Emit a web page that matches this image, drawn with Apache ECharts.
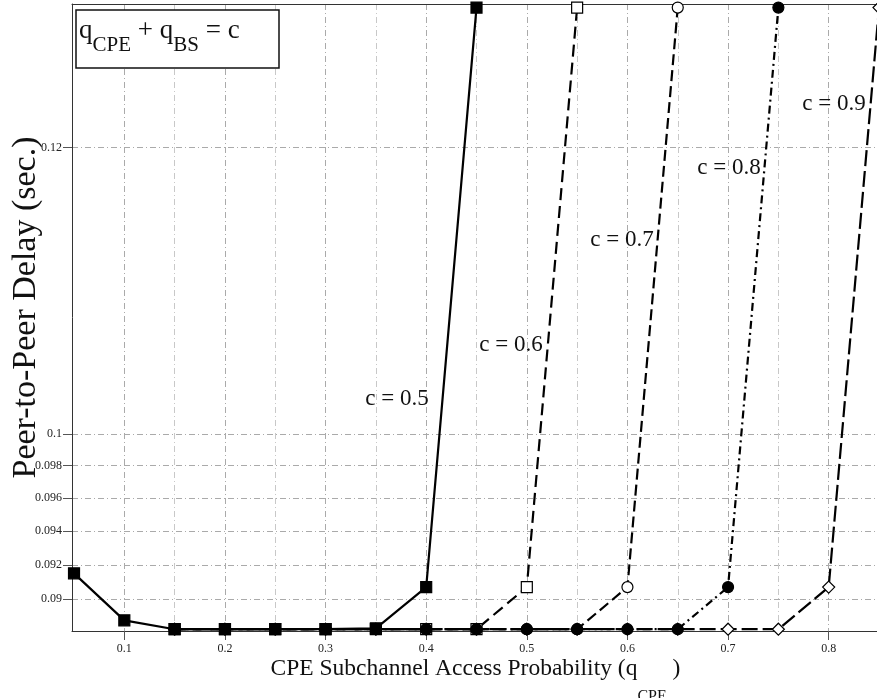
<!DOCTYPE html>
<html>
<head>
<meta charset="utf-8">
<script src="https://cdn.jsdelivr.net/npm/echarts@6.0.0/dist/echarts.min.js"></script>
<style>
  html, body { margin: 0; padding: 0; background: #fff; }
  #chart { width: 877px; height: 698px; }
</style>
</head>
<body>
<div id="chart"></div>
<script>
// q_CPE values on the x axis
var qCPE = [0.05, 0.1, 0.15, 0.2, 0.25, 0.3, 0.35, 0.4, 0.45, 0.5, 0.55, 0.6, 0.65, 0.7, 0.75, 0.8, 0.85];

// peer-to-peer delay (sec.) for each c = q_CPE + q_BS
var delayC05 = [0.0915, 0.0888, 0.0883, 0.0883, 0.0883, 0.0883, 0.08835, 0.0907, 0.1312, null, null, null, null, null, null, null, null];
var delayC06 = [null, null, 0.0883, 0.0883, 0.0883, 0.0883, 0.0883, 0.0883, 0.0883, 0.0907, 0.1312, null, null, null, null, null, null];
var delayC07 = [null, null, 0.0883, 0.0883, 0.0883, 0.0883, 0.0883, 0.0883, 0.0883, 0.0883, 0.0883, 0.0907, 0.1312, null, null, null, null];
var delayC08 = [null, null, 0.0883, 0.0883, 0.0883, 0.0883, 0.0883, 0.0883, 0.0883, 0.0883, 0.0883, 0.0883, 0.0883, 0.0907, 0.1312, null, null];
var delayC09 = [null, null, 0.0883, 0.0883, 0.0883, 0.0883, 0.0883, 0.0883, 0.0883, 0.0883, 0.0883, 0.0883, 0.0883, 0.0883, 0.0883, 0.0907, 0.1312];

// tick labels
var xTicks = [0.1, 0.2, 0.3, 0.4, 0.5, 0.6, 0.7, 0.8];
var xMinorTicks = [0.15, 0.25, 0.35, 0.45, 0.55, 0.65, 0.75];
var yTicks = [0.09, 0.092, 0.094, 0.096, 0.098, 0.1, 0.12];
var yTickLabels = ['0.09', '0.092', '0.094', '0.096', '0.098', '0.1', '0.12'];

var serif = 'Liberation Serif';

// the delay axis is logarithmic, so values go through log10 on a value axis
function toPairs(vals) {
  var out = [];
  for (var i = 0; i < qCPE.length; i++) {
    if (vals[i] != null) out.push([qCPE[i], Math.log10(vals[i])]);
  }
  return out;
}

function yLabel(v) {
  var best = 0;
  for (var i = 0; i < yTicks.length; i++) {
    if (Math.abs(Math.log10(yTicks[i]) - v) < Math.abs(Math.log10(yTicks[best]) - v)) best = i;
  }
  return yTickLabels[best];
}

function makeSeries(name, vals, symbol, filled, dash) {
  return {
    name: name,
    type: 'line',
    data: toPairs(vals),
    symbol: symbol,
    symbolSize: symbol === 'diamond' ? 12 : 11,
    showAllSymbol: true,
    clip: false,
    lineStyle: { color: '#000', width: 2.2, type: dash },
    itemStyle: { color: filled ? '#000' : '#fff', borderColor: '#000', borderWidth: 1.2 }
  };
}

function curveLabel(text, x, y) {
  return { type: 'text', x: x, y: y, z: 50, style: { text: text, font: '23px "Liberation Serif"', fill: '#111', align: 'center', verticalAlign: 'middle' } };
}

var gridDash = [6, 3, 1, 3];

var option = {
  animation: false,
  backgroundColor: '#fff',
  grid: { left: 72, top: 4, right: -2, bottom: 67, containLabel: false, outerBoundsMode: 'none' },
  xAxis: [{
    type: 'value',
    min: 0.048,
    max: 0.85,
    axisLine: { lineStyle: { color: '#333', width: 1 } },
    axisTick: { show: true, length: 9, customValues: xTicks, lineStyle: { color: '#555' } },
    axisLabel: { customValues: xTicks, margin: 12, color: '#222', fontFamily: serif, fontSize: 12 },
    splitLine: { show: true, lineStyle: { color: '#aaa', type: gridDash } },
    name: '{a|CPE Subchannel Access Probability (q}{sub|CPE}{a| )}',
    nameLocation: 'middle',
    nameGap: 1,
    nameMoveOverlap: false,
    nameTextStyle: {
      rich: {
        a: { fontFamily: serif, fontSize: 23.5, color: '#111' },
        sub: { fontFamily: serif, fontSize: 16, color: '#111', padding: [57, 0, 0, 0] }
      }
    }
  }, {
    // top border plus the lighter grid lines between the labelled ticks
    type: 'value',
    position: 'top',
    min: 0.048,
    max: 0.85,
    axisLine: { show: true, lineStyle: { color: '#333', width: 1 } },
    axisTick: { show: false, customValues: xMinorTicks },
    axisLabel: { show: false },
    splitLine: { show: true, lineStyle: { color: '#c8c8c8', type: gridDash } }
  }],
  yAxis: {
    type: 'value',
    min: Math.log10(0.0882),
    max: Math.log10(0.1315),
    axisLine: { show: true, lineStyle: { color: '#333', width: 1 } },
    axisTick: { show: true, length: 9, customValues: yTicks.map(Math.log10), lineStyle: { color: '#555' } },
    axisLabel: { customValues: yTicks.map(Math.log10), formatter: yLabel, margin: 10, color: '#222', fontFamily: serif, fontSize: 12 },
    splitLine: { show: true, lineStyle: { color: '#aaa', type: gridDash } },
    name: 'Peer-to-Peer Delay (sec.)',
    nameLocation: 'middle',
    nameGap: 29,
    nameMoveOverlap: false,
    nameTextStyle: { fontFamily: serif, fontSize: 34, color: '#111', padding: [0, 0, 0, 20] }
  },
  series: [
    makeSeries('c = 0.6', delayC06, 'rect', false, [12, 6]),
    makeSeries('c = 0.7', delayC07, 'circle', false, [11, 5]),
    makeSeries('c = 0.9', delayC09, 'diamond', false, [16, 5]),
    makeSeries('c = 0.8', delayC08, 'circle', true, [8, 4, 2, 4]),
    makeSeries('c = 0.5', delayC05, 'rect', true, 'solid')
  ],
  graphic: [
    {
      type: 'rect',
      shape: { x: 76, y: 10, width: 203, height: 58 },
      style: { fill: '#fff', stroke: '#111', lineWidth: 1.5 },
      z: 100
    },
    {
      type: 'text',
      x: 79,
      y: 5,
      z: 101,
      style: {
        text: '{a|q}{sub|CPE}{a| + q}{sub|BS}{a| = c}',
        rich: {
          a: { fontFamily: serif, fontSize: 27, fill: '#111' },
          sub: { fontFamily: serif, fontSize: 21, fill: '#111', padding: [30, 0, 0, 0] }
        }
      }
    },
    curveLabel('c = 0.5', 397, 399),
    curveLabel('c = 0.6', 511, 345),
    curveLabel('c = 0.7', 622, 240),
    curveLabel('c = 0.8', 729, 168),
    curveLabel('c = 0.9', 834, 104)
  ]
};

var myChart = echarts.init(document.getElementById('chart'));
myChart.setOption(option);
</script>
</body>
</html>
